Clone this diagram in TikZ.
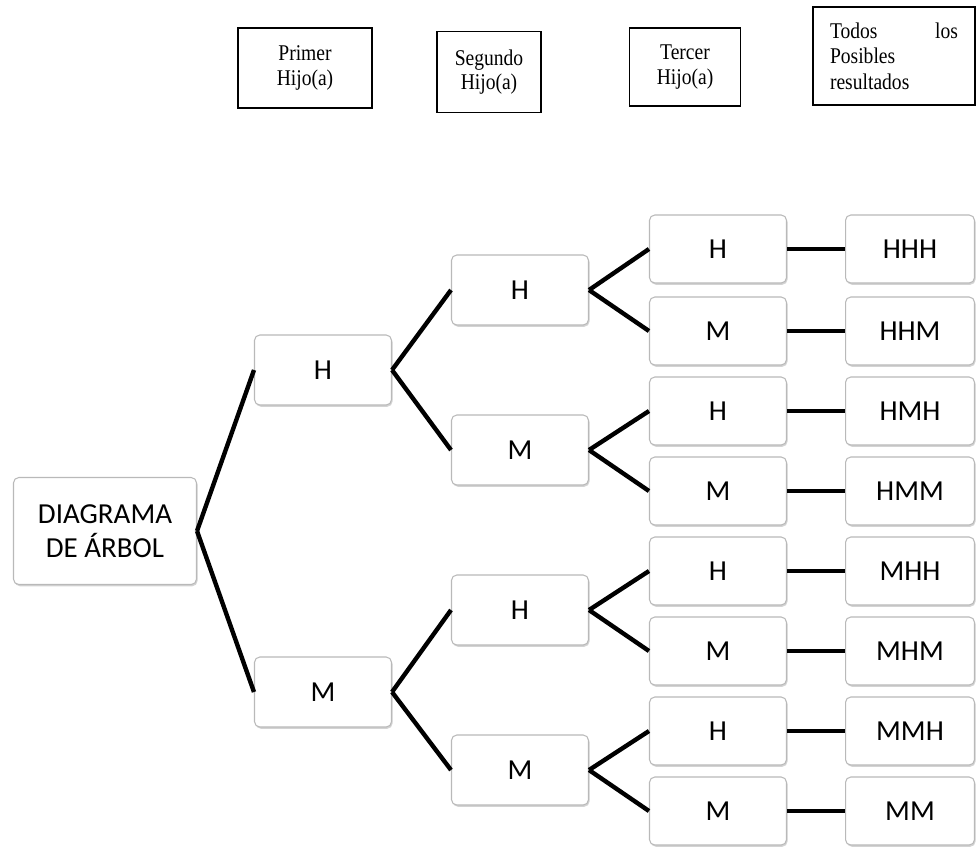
\documentclass[tikz,border=0pt]{standalone}
\usepackage{fontspec}
\setmainfont{Liberation Serif}
\newfontfamily\tnr[FakeStretch=0.87]{Liberation Serif}
\newfontfamily\calib{Carlito}
\usetikzlibrary{positioning, shadows}

\tikzset{
  caja/.style={draw=gray!55, fill=white, rounded corners=3pt, line width=0.6pt,
    minimum width=2.74cm, minimum height=1.4cm, align=center,
    font=\calib\fontsize{16.5}{19.5}\selectfont,
    drop shadow={opacity=0.35, shadow xshift=0.6pt, shadow yshift=-1pt}},
  hoja/.style={caja, minimum height=1.36cm},
  enc/.style={draw, line width=0.8pt, align=center, font=\tnr\fontsize{12.8}{14}\selectfont},
  rama/.style={line width=2.5pt}
}

\begin{document}
\begin{tikzpicture}[x=0.02cm, y=-0.02cm]
  \useasboundingbox (0,0) rectangle (976,853);

  % encabezados
  \node[enc, minimum width=2.68cm, minimum height=1.6cm] (e1) at (305,68) {Primer\\Hijo(a)};
  \node[enc, minimum width=2.08cm, minimum height=1.62cm] (e2) at (489,72) {Segundo\\Hijo(a)};
  \node[enc, minimum width=2.22cm, minimum height=1.56cm] (e3) at (685,67) {Tercer\\Hijo(a)};
  \node[enc, minimum width=3.24cm, minimum height=1.96cm, text width=2.56cm, align=left,
    font=\tnr\fontsize{12.8}{14.5}\selectfont]
    (e4) at (894,56) {Todos \hfill los\\Posibles\\resultados};

  % arbol
  \node[caja, minimum width=3.66cm, minimum height=2.14cm] (raiz) at (105,531) {DIAGRAMA\\DE ÁRBOL};

  \node[caja] (a1) at (323,370) {H};
  \node[caja] (a2) at (323,692) {M};

  \foreach \i/\y/\t in {1/290/H, 2/450/M, 3/610/H, 4/770/M}
    \node[caja] (b\i) at (520,\y) {\t};

  \foreach \i/\y/\t/\r in {1/249/H/HHH, 2/331/M/HHM, 3/411/H/HMH, 4/491/M/HMM,
                           5/571/H/MHH, 6/651/M/MHM, 7/731/H/MMH, 8/811/M/MM}
  {
    \node[hoja] (c\i) at (718,\y) {\t};
    \node[hoja, minimum width=2.58cm] (r\i) at (910,\y) {\r};
    \draw[rama] (c\i) -- (r\i);
  }

  % ramas
  \foreach \p/\u/\v in {raiz/a1/a2, a1/b1/b2, a2/b3/b4, b1/c1/c2, b2/c3/c4, b3/c5/c6, b4/c7/c8}
  {
    \draw[rama] (\p.east) -- (\u.west);
    \draw[rama] (\p.east) -- (\v.west);
  }
\end{tikzpicture}
\end{document}
